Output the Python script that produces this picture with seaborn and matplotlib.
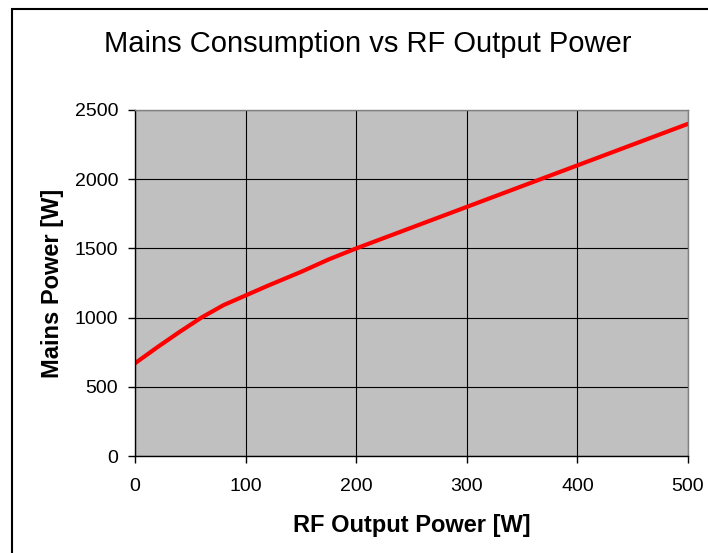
import pandas as pd
import seaborn as sns
import matplotlib.pyplot as plt
from matplotlib.patches import Rectangle

# 数据
rf_power = [0, 20, 40, 60, 80, 100, 120, 150, 175, 200, 300, 400, 500]
mains_power = [670, 785, 895, 1000, 1090, 1160, 1230, 1330, 1420, 1500, 1800, 2100, 2400]
x_ticks = [0, 100, 200, 300, 400, 500]
y_ticks = [0, 500, 1000, 1500, 2000, 2500]

data = pd.DataFrame({'rf': rf_power, 'mains': mains_power})

sns.set_theme(style="white")
plt.rcParams['font.family'] = ['Liberation Sans', 'DejaVu Sans']
plt.rcParams['text.color'] = 'black'
plt.rcParams['axes.labelcolor'] = 'black'
plt.rcParams['xtick.color'] = 'black'
plt.rcParams['ytick.color'] = 'black'

fig = plt.figure(figsize=(7.08, 5.53), dpi=100)
ax = fig.add_axes([0.1907, 0.1754, 0.7811, 0.6257])

# 灰色绘图区 + 黑色网格
ax.set_facecolor('#C0C0C0')
sns.lineplot(data=data, x='rf', y='mains', color='#FF0000', linewidth=3, ax=ax)

ax.set_xlim(0, 500)
ax.set_ylim(0, 2500)
ax.set_xticks(x_ticks)
ax.set_yticks(y_ticks)
ax.grid(True, color='black', linewidth=0.8)
ax.set_axisbelow(True)

for side in ['left', 'bottom']:
    ax.spines[side].set_color('black')
    ax.spines[side].set_linewidth(1.0)
for side in ['top', 'right']:
    ax.spines[side].set_color('#808080')
    ax.spines[side].set_linewidth(1.0)

ax.tick_params(axis='both', direction='out', length=5, width=1, color='black',
               labelsize=14, labelcolor='black', bottom=True, left=True)
ax.tick_params(axis='x', pad=10.5)
ax.tick_params(axis='y', pad=7)

ax.set_xlabel('RF Output Power [W]', fontsize=17, fontweight='bold', labelpad=14)
ax.set_ylabel('Mains Power [W]', fontsize=17, fontweight='bold', labelpad=8)

fig.text(0.52, 0.92, 'Mains Consumption vs RF Output Power', fontsize=21,
         ha='center', va='center')

# 外框（右侧和底部超出画面）
fig.patches.append(Rectangle((12 / 708, -0.05), 1.0, 1.05 - 9 / 553,
                             transform=fig.transFigure, fill=False,
                             edgecolor='black', linewidth=1.5))

fig.savefig('out.png', dpi=100)
